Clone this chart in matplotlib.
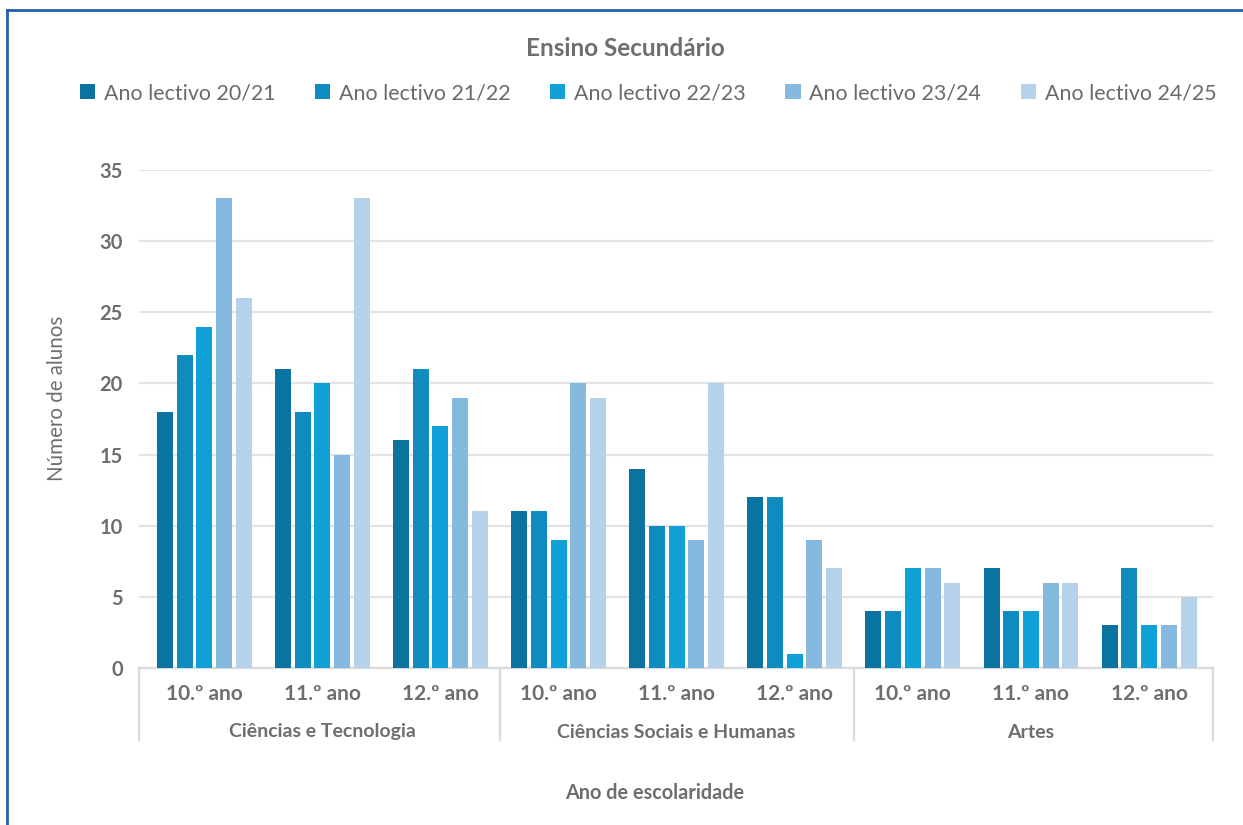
import matplotlib
matplotlib.use("Agg")
import matplotlib.pyplot as plt
from matplotlib.lines import Line2D
from matplotlib.patches import Patch
import numpy as np

plt.rcParams['font.family'] = ['Lato', 'DejaVu Sans']

title = "Ensino Secundário"
series_names = ["Ano lectivo 20/21", "Ano lectivo 21/22", "Ano lectivo 22/23",
                "Ano lectivo 23/24", "Ano lectivo 24/25"]
years = ["10.º ano", "11.º ano", "12.º ano"]
groups = ["Ciências e Tecnologia", "Ciências Sociais e Humanas", "Artes"]

s2021 = [18, 21, 16, 11, 14, 12, 4, 7, 3]
s2122 = [22, 18, 21, 11, 10, 12, 4, 4, 7]
s2223 = [24, 20, 17, 9, 10, 1, 7, 4, 3]
s2324 = [33, 15, 19, 20, 9, 9, 7, 6, 3]
s2425 = [26, 33, 11, 19, 20, 7, 6, 6, 5]
series = [s2021, s2122, s2223, s2324, s2425]
colors = ["#0A73A0", "#0E8BBF", "#10A0D8", "#85B9E0", "#B6D2EA"]

yticks = [0, 5, 10, 15, 20, 25, 30, 35]

W, H = 1243, 825
fig = plt.figure(figsize=(W / 100, H / 100), dpi=100)
ax = fig.add_axes([139.3 / W, 1 - 668 / H, (1212.5 - 139.3) / W, (668 - 170) / H])

n_cat = len(years) * len(groups)
x = np.arange(n_cat)
step = 0.167
width = 0.1355
for j, (vals, c) in enumerate(zip(series, colors)):
    ax.bar(x + (j - 2) * step, vals, width=width, color=c, label=series_names[j], zorder=3)

ax.set_xlim(-0.55, 8.537)
ax.set_ylim(0, 35)
ax.set_yticks(yticks)
ax.set_yticklabels([str(t) for t in yticks], fontsize=14.5, fontweight='bold', color='#6E6E6E')
ax.tick_params(axis='y', length=0, pad=12)
ax.grid(axis='y', color='#E3E3E3', linewidth=1.6, zorder=0)
for s in ['top', 'right', 'left']:
    ax.spines[s].set_visible(False)
ax.spines['bottom'].set_color('#DADADA')
ax.spines['bottom'].set_linewidth(1.6)
ax.set_xticks([])

gray = '#6E6E6E'
trans = ax.get_xaxis_transform()
# category labels
for i in range(n_cat):
    ax.text(x[i], -26 / 498, years[i % 3], transform=trans, ha='center', va='center',
            fontsize=15, fontweight='bold', color=gray)
# group labels
for g, name in enumerate(groups):
    ax.text(3 * g + 1, -64 / 498, name, transform=trans, ha='center', va='center',
            fontsize=14, fontweight='bold', color=gray)
# separators
for xs in [-0.55, 2.5, 5.5, 8.537]:
    ax.add_line(Line2D([xs, xs], [0, -72 / 498], transform=trans, color='#DADADA',
                       linewidth=1.6, clip_on=False))

fig.text(625 / W, 1 - 48 / H, title, ha='center', va='center', fontsize=17.5,
         fontweight='bold', color=gray)
fig.text(57 / W, 1 - 398 / H, "Número de alunos", rotation=90, ha='center', va='center',
         fontsize=14.8, color=gray)
fig.text(655 / W, 1 - 793 / H, "Ano de escolaridade", ha='center', va='center',
         fontsize=14.3, fontweight='bold', color=gray)

handles = [Patch(facecolor=c, edgecolor='none') for c in colors]
leg = fig.legend(handles, series_names, loc='center', bbox_to_anchor=(648 / W, 1 - 93 / H),
                 ncol=5, frameon=False, fontsize=15.4, handlelength=0.72, handleheight=0.72,
                 handletextpad=0.4, columnspacing=1.85, borderaxespad=0)
for t in leg.get_texts():
    t.set_color('#6A6A6A')

# outer frame (left and top edges visible)
fig.add_artist(Line2D([6.5 / W, 6.5 / W], [0, 1 - 10 / H], transform=fig.transFigure,
                      color='#1F5FAA', linewidth=2))
fig.add_artist(Line2D([6.5 / W, 1], [1 - 10 / H, 1 - 10 / H], transform=fig.transFigure,
                      color='#1F5FAA', linewidth=2))

fig.savefig("out.png", dpi=100, facecolor='white')
